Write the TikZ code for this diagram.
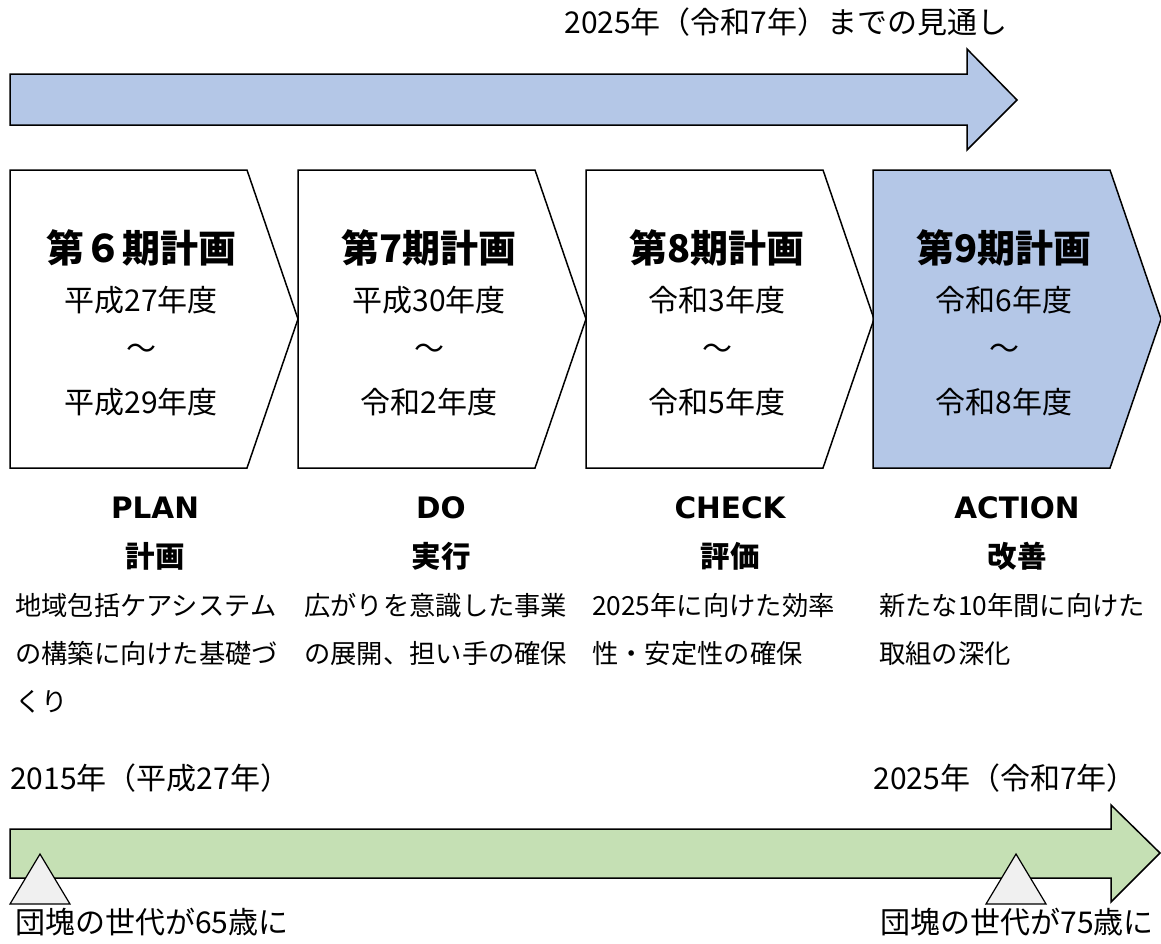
\documentclass[tikz,border=0pt]{standalone}
\usepackage{fontspec}
\setmainfont{Noto Sans CJK JP}
\newfontfamily\latfont{DejaVu Sans}
\definecolor{blueF}{HTML}{B4C7E7}
\definecolor{greenF}{HTML}{C5E0B4}
\definecolor{triF}{HTML}{F0F0F0}
\tikzset{
  outl/.style={draw=black, line width=1.5pt, line join=miter},
  hdr/.style={font=\fontsize{38}{44}\selectfont\bfseries, inner sep=0pt},
  yr/.style={font=\fontsize{30}{36}\selectfont, inner sep=0pt},
  phase/.style={font=\fontsize{29.5}{34}\selectfont\bfseries, inner sep=0pt},
  phaselat/.style={font=\latfont\fontsize{29.5}{34}\selectfont\bfseries, inner sep=0pt},
  desc/.style={font=\fontsize{26.3}{48}\selectfont, inner sep=0pt, align=left, anchor=north west},
  lbl/.style={font=\fontsize{30}{36}\selectfont, inner sep=0pt},
  tri/.style={draw=black, line width=1.2pt, fill=triF, line join=miter}
}
\newcommand\chevbox[2]{%
  \fill[#2] (#1,170) -- (#1+237,170) -- (#1+288,319) -- (#1+237,468) -- (#1,468) -- cycle;
  \draw[outl] (#1,170) -- (#1+237,170) -- (#1+288,319) -- (#1+237,468) -- (#1,468) -- cycle;}
\begin{document}
\begin{tikzpicture}[x=1pt,y=-1pt]
\useasboundingbox (0,0) rectangle (1161,943);
\fill[white] (0,0) rectangle (1161,943);

% title and top arrow
\node[lbl] (title) at (786,22) {2025年（令和7年）までの見通し};
\draw[outl, fill=blueF] (10,74) -- (967,74) -- (967,49) -- (1017,100) -- (967,150) -- (967,125) -- (10,125) -- cycle;

% chevron boxes
\chevbox{10}{white}
\chevbox{298}{white}
\chevbox{586}{white}
\chevbox{873}{blueF}

\node[hdr] (h6) at (141,248) {第６期計画};
\node[yr] (a6) at (141,300) {平成27年度};
\node[yr] (t6) at (141,352) {～};
\node[yr] (b6) at (141,402) {平成29年度};

\node[hdr] (h7) at (429,248) {第7期計画};
\node[yr] (a7) at (429,300) {平成30年度};
\node[yr] (t7) at (429,352) {～};
\node[yr] (b7) at (429,402) {令和2年度};

\node[hdr] (h8) at (717,248) {第8期計画};
\node[yr] (a8) at (717,300) {令和3年度};
\node[yr] (t8) at (717,352) {～};
\node[yr] (b8) at (717,402) {令和5年度};

\node[hdr] (h9) at (1004,248) {第9期計画};
\node[yr] (a9) at (1004,300) {令和6年度};
\node[yr] (t9) at (1004,352) {～};
\node[yr] (b9) at (1004,402) {令和8年度};

% PDCA labels
\node[phaselat] (p1) at (155,508) {PLAN};
\node[phase] (p1j) at (155,556) {計画};
\node[phaselat] (p2) at (441,508) {DO};
\node[phase] (p2j) at (441,556) {実行};
\node[phaselat] (p3) at (730,508) {CHECK};
\node[phase] (p3j) at (730,556) {評価};
\node[phaselat] (p4) at (1017,508) {ACTION};
\node[phase] (p4j) at (1017,556) {改善};

% descriptions
\node[desc] (d1) at (15,593) {地域包括ケアシステム\\の構築に向けた基礎づ\\くり};
\node[desc] (d2) at (304,593) {広がりを意識した事業\\の展開、担い手の確保};
\node[desc] (d3) at (592,593) {2025年に向けた効率\\性・安定性の確保};
\node[desc] (d4) at (879,593) {新たな10年間に向けた\\取組の深化};

% bottom timeline
\node[lbl, anchor=west] (y2015) at (10,778) {2015年（平成27年）};
\node[lbl, anchor=east] (y2025) at (1137,778) {2025年（令和7年）};
\draw[outl, fill=greenF] (10,829) -- (1111,829) -- (1111,805) -- (1160,853) -- (1111,902) -- (1111,878) -- (10,878) -- cycle;
\draw[tri] (40,854) -- (70,904) -- (10,904) -- cycle;
\draw[tri] (1016,854) -- (1046,904) -- (986,904) -- cycle;
\node[lbl, anchor=west] (e65) at (15,922) {団塊の世代が65歳に};
\node[lbl, anchor=east] (e75) at (1154,922) {団塊の世代が75歳に};
\end{tikzpicture}
\end{document}
